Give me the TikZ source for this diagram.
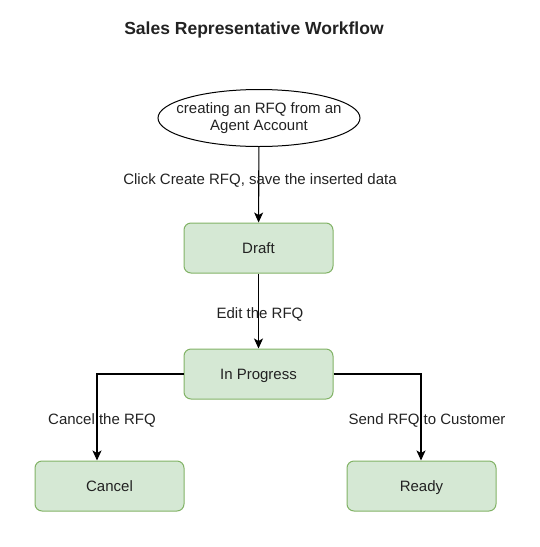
\documentclass[tikz,border=0pt]{standalone}
\usepackage{fontspec}
\setmainfont{Liberation Sans}
\usetikzlibrary{shapes.geometric,arrows.meta}
\definecolor{stateFill}{RGB}{213,232,212}
\definecolor{stateLine}{RGB}{130,179,102}
\definecolor{txt}{RGB}{34,34,34}

\begin{document}
\begin{tikzpicture}[x=1pt,y=1pt,yscale=-1,xscale=1,
  font=\fontsize{15}{17.5}\selectfont, text=txt,
  state/.style={draw=stateLine, line width=1pt, fill=stateFill, rounded corners=7pt, minimum width=149pt, minimum height=50pt, inner sep=0pt, text height=14.5pt, text depth=3pt},
  start/.style={draw, line width=1pt, ellipse, minimum width=202pt, minimum height=57pt, inner sep=0pt},
  flow/.style={draw=black, line width=1.1pt, -{Stealth[length=10pt,width=9pt,inset=2.5pt]}},
  lbl/.style={inner sep=0pt, anchor=center}]
\useasboundingbox (0,0) rectangle (539,547);
% Title
\node (title) at (254,30) {\fontsize{17.5}{20}\selectfont\bfseries Sales Representative Workflow};
% Start
\node [start] (entry) at (259,118) {};
\node [lbl, align=center] (entrytext) at (entry) {creating an RFQ from an\\Agent Account};
% States
\node [state] (draft) at (258.5,248) {Draft};
\node [state] (progress) at (258.5,374) {In Progress};
\node [state] (cancel) at (109.5,486) {Cancel};
\node [state] (ready) at (421.5,486) {Ready};
\coordinate (leftbend) at (97,374);
\coordinate (rightbend) at (421,374);
% Connectors
\draw [flow] (entry) -- (draft);
\draw [flow] (draft) -- (progress);
\draw [flow] (progress.west) -- (leftbend) -- (leftbend |- cancel.north);
\draw [flow] (progress.east) -- (rightbend) -- (rightbend |- ready.north);
% Labels
\node [lbl] (l1) at (260,180) {Click Create RFQ, save the inserted data};
\node [lbl] (l2) at (260,314) {Edit the RFQ};
\node [lbl] (l3) at (102,420) {Cancel the RFQ};
\node [lbl] (l4) at (427,420) {Send RFQ to Customer};
\end{tikzpicture}
\end{document}
